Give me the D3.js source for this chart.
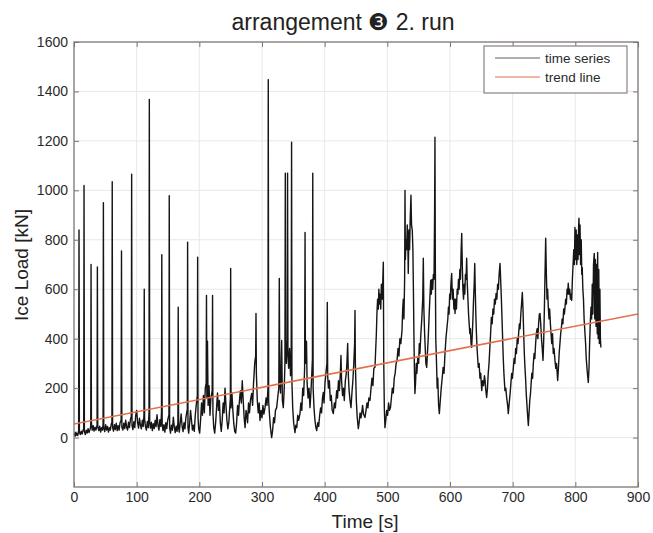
<!DOCTYPE html>
<html><head><meta charset="utf-8">
<script src="https://cdn.jsdelivr.net/npm/d3@7/dist/d3.min.js"></script>
<style>body{margin:0;background:#fff}svg{display:block}</style>
</head><body><svg id="c" width="653" height="533"></svg>
<script>
const titleText = "arrangement \u2778 2. run";
const xLabel = "Time [s]";
const yLabel = "Ice Load [kN]";
const xTicks = [0,100,200,300,400,500,600,700,800,900];
const yTicks = [0,200,400,600,800,1000,1200,1400,1600];
const xDomain = [0,900];
const yDomain = [-200,1600];
const legendLabels = ["time series","trend line"];
const trendTime = [0, 900];
const trendLoad = [55, 500];
// time series samples: [time s, load kN]
const loadSamples = [
[0,8],[1,18],[2,6],[3,22],[4,10],[5,16],[6,8],[7.4,28],[8,840],[8.6,22],[10,12],[11.5,26],[13,14],[14.5,30],[15.5,36],[16,1020],[16.6,24],[18,12],[19.5,30],[21,18],[22.5,36],[24,20],[25.5,32],[26.7,45],[27.2,700],[27.8,60],[29,30],[30.5,48],[32,26],[33.5,42],[35,30],[36.8,50],[37.3,690],[37.9,45],[39.5,28],[41,46],[42.5,22],[44,40],[45.5,30],[46.4,55],[46.9,950],[47.5,40],[49,24],[50.5,52],[52,30],[53.5,45],[55,22],[56.5,40],[58,30],[59.5,55],[60.5,62],[61,1035],[61.6,40],[63,26],[64.5,52],[66,32],[67.5,58],[69,28],[70.5,48],[72,30],[73.5,60],[75.2,70],[75.8,755],[76.4,42],[78,30],[79.5,58],[81,36],[82.5,70],[84,42],[85.5,30],[87,62],[88.5,40],[90,72],[91.4,85],[92,1065],[92.6,48],[94,32],[95.5,64],[97,40],[98.5,90],[100,110],
[101.5,60],[103,38],[104.5,78],[106,50],[107.5,35],[109,70],[110.5,45],[111.6,90],[112.1,600],[112.7,75],[114,45],[115.5,30],[117,65],[118.5,40],[119.7,100],[120.2,1368],[120.8,60],[122,38],[123.5,62],[125,28],[126.5,56],[128,36],[129.5,70],[131,44],[132.5,92],[134,50],[135.5,30],[137,72],[138.5,45],[139.6,100],[140.1,740],[140.7,55],[142,28],[143.5,52],[145,22],[146.5,60],[148,36],[149.5,70],[151.5,92],[152,978],[152.6,40],[154,18],[155.5,50],[157,30],[158.5,82],[160,44],[161.5,20],[163,46],[164.5,25],[165.8,62],[166.3,527],[166.9,40],[168,22],[169.5,60],[171,95],[172.5,45],[174,24],[175.5,60],[177,35],[178.5,80],[180.8,115],[181.3,790],[181.9,40],[183,18],[184.5,58],[186,110],[187.5,70],[189,30],[190.5,50],[192,25],[193.5,90],[195,130],[196.8,170],[197.3,730],[197.9,80],[199,35],[200.5,18],
[202,70],[203.5,140],[205,90],[206.5,170],[208,100],[209.5,200],[210.9,220],[211.4,575],[212,160],[213,390],[214,130],[215.5,210],[217,90],[218.5,160],[220.5,190],[221.1,575],[221.7,100],[223,40],[224.5,18],[226,60],[227.5,120],[229,180],[230.5,110],[232,150],[233.5,60],[235,25],[236.5,70],[238,140],[239.5,100],[241,200],[242.5,130],[244,70],[245.5,35],[247,60],[248.5,120],[249.5,160],[250,684],[250.6,120],[252,180],[253.5,110],[255,55],[256.5,25],[258,18],[259.5,60],[261,130],[262.5,90],[264,150],[265.5,190],[267,140],[268.5,230],[270,150],[271.5,80],[273,40],[274.5,110],[275.5,97],[277,60],[278.5,140],[280,100],[281.5,150],[283.5,178],[285,130],[286.5,220],[288.5,304],[289.9,330],[290.4,502],[291,260],[292.5,150],[294,100],[295.5,140],[296.8,69],[298.5,110],[300,80],
[301.5,130],[303,95],[304.8,121],[306.5,160],[308,130],[309.5,200],[310,1448],[310.6,150],[312,90],[313.5,40],[315.4,0],[317,30],[318.5,80],[320,60],[321.5,110],[323.4,121],[325,160],[326.8,200],[327.6,644],[328.3,250],[329.5,180],[331.4,393],[332.5,150],[334,121],[335.5,200],[336.6,300],[337.2,1069],[337.8,380],[339,300],[340.3,400],[340.8,1069],[341.4,350],[342.5,280],[344,360],[345.5,250],[346.6,330],[347.2,1195],[347.8,220],[349,120],[350.5,60],[352.6,20],[354,50],[355.5,40],[357,90],[358.5,70],[360.6,97],[362,140],[363.5,110],[365,200],[366.5,170],[368,280],[368.7,830],[369.3,300],[371,390],[372,220],[373.5,160],[375,200],[376.6,121],[378,180],[379.5,260],[380.5,320],[381,1069],[381.6,200],[383,120],[384.5,70],[386,40],[387.3,28],[389,60],[390.5,45],[392,90],[393.5,120],[395,100],[396.5,160],[397.8,182],[399,140],[400.5,220],
[402,260],[403.6,300],[404.2,547],[404.8,250],[406,200],[407.5,230],[409,150],[410.5,170],[412,110],[413.8,97],[415.5,140],[417,120],[419.2,190],[420.5,160],[422,230],[423.5,190],[425,260],[426,332],[427,230],[428.5,170],[430,200],[431.3,150],[433,230],[434.5,260],[435.5,300],[436.7,381],[437.8,250],[439,190],[440.5,150],[442,121],[443.5,180],[445,230],[446.5,300],[447.8,380],[448.4,514],[449,300],[450.5,150],[452,80],[453.7,36],[455,60],[456.5,100],[458,80],[459,97],[460.5,130],[462,95],[464.3,81],[466,110],[467.5,140],[469,120],[470.5,160],[472.3,150],[474,200],[475.5,240],[477,210],[478.5,280],[480.3,284],[481.5,360],[482.5,420],[483.5,510],[484.5,560],[485.6,520],[486.5,600],[487.5,540],[488.5,580],[489.5,520],[490.5,620],[491.8,560],[492.8,640],[493.6,709],[494.3,300],[495.2,120],[496.2,40],[497.5,70],[499,110],[500.5,90],
[502,140],[503.5,110],[505,121],[506.5,160],[508,200],[509.5,180],[511,240],[512.5,260],[514,300],[515.5,312],[517,360],[518.5,330],[520,400],[521.5,380],[523.4,433],[524.5,520],[525.5,560],[526.5,480],[527.6,640],[528.2,1000],[528.8,720],[529.8,800],[530.8,760],[531.8,860],[532.8,780],[533.4,664],[534.5,840],[535.5,760],[536.5,880],[537.7,980],[538.6,860],[539.8,838],[540.8,760],[541.6,600],[542.5,400],[543.3,260],[544,178],[545,220],[546.2,300],[547.2,260],[548.5,320],[550,300],[551,380],[552,340],[553.5,420],[555,480],[556.5,560],[557.4,725],[558.3,520],[559.5,420],[560.5,360],[561.5,300],[562.8,284],[564,340],[565.2,400],[566.5,480],[567.8,560],[569.2,636],[570.2,580],[571.3,640],[572.4,600],[573.5,660],[574.5,640],[575.4,900],[576,1215],[576.6,700],[577.3,400],[578.5,300],[579.5,200],[580.5,240],[581.8,130],[583,97],[584.5,150],[586,200],[587.5,240],[589,284],[590.5,260],[592,340],[593.5,400],[595,440],[596.5,480],[597.5,527],[598.5,500],[599.5,580],[600.5,560],
[601.5,620],[602.7,664],[603.8,560],[605,600],[606.2,520],[607.2,560],[608,502],[609.2,560],[610.3,520],[611.5,600],[612.6,580],[613.5,640],[614.6,600],[615.7,680],[616.7,640],[617.8,760],[618.7,826],[619.6,700],[620.6,600],[621.6,560],[622.6,620],[623.6,580],[624.6,660],[625.6,640],[626.6,725],[627.6,620],[628.6,560],[629.6,500],[630.6,460],[631.6,421],[632.6,440],[633.6,380],[634.6,365],[635.6,420],[636.6,480],[637.6,560],[638.6,620],[639.5,704],[640.3,600],[641.2,500],[642.2,420],[643.2,360],[644.2,320],[645.2,284],[646.5,300],[647.8,240],[649,260],[650.6,190],[652,230],[653.5,210],[655,250],[656,231],[657.2,190],[658.5,162],[659.8,200],[661,260],[662.3,300],[663.5,360],[664.8,420],[666,486],[667.3,460],[668.5,520],[669.8,500],[671,560],[672.3,540],[673.5,583],[674.8,560],[676,620],[677.2,600],[678.4,660],[679.8,704],[680.8,640],[682,560],[683,480],[684,400],[685,320],[686,260],[687.7,190],[689,200],[690.5,160],[692,130],[693,97],[694.5,140],[696,180],[697.2,220],[698.4,259],[699.6,240],
[701,280],[702.3,320],[703.5,300],[704.8,360],[706,340],[707.3,400],[708.5,380],[709.5,421],[710.7,460],[711.8,440],[713,500],[714.2,540],[715.4,587],[716.5,520],[717.6,420],[718.6,340],[719.6,284],[720.6,240],[721.6,180],[722.6,140],[723.6,100],[725,49],[726.2,100],[727.3,150],[728.5,180],[729.5,219],[730.6,260],[731.8,240],[733,300],[734.2,340],[735.4,320],[736.6,380],[737.8,421],[739,440],[740.2,400],[741.4,460],[742.6,500],[743.6,502],[744.8,460],[746,400],[747.2,360],[748.4,312],[749.6,400],[750.6,520],[751.6,660],[752.7,806],[753.8,660],[754.8,560],[755.8,600],[756.9,527],[758,480],[759,520],[760.2,460],[761.2,421],[762.4,380],[763.6,420],[764.8,340],[766,360],[767.5,312],[768.8,280],[770,300],[771.8,231],[773,280],[774.2,340],[775.4,380],[776.6,420],[777.8,446],[779,480],[780.2,460],[781.4,520],[782.6,500],[783.5,527],[784.6,560],[785.7,540],[786.8,600],[787.8,580],[788.7,624],[789.8,580],[791,600],[792.2,560],[793.2,580],[794.2,555],[795.3,640],[796.4,700],[797.5,760],[798.5,700],[799.4,850],[800.3,720],[801.3,840],[802.3,700],[803.3,820],[804.3,720],[805.3,860],[805.8,887],[806.6,740],[807.5,860],[808.4,700],[809.4,800],[810.3,660],[811,688],[812,600],[813,560],[814,480],[815.4,421],[816.4,380],[817.4,320],[818.6,280],[819.6,250],[820.7,223],[821.8,280],[822.8,380],[823.8,460],[825,527],[826,480],[827,620],[828,500],[829,700],[830.2,745],[831,480],[832,720],[833,450],[834,700],[835,420],[835.6,749],[836.5,400],[837.4,680],[838.3,380],[839.2,600],[840,400],[840.8,364]
];

const W = 653, H = 533;
const m = {left:74, right:15, top:42, bottom:46};
const svg = d3.select("#c");
svg.append("rect").attr("width",W).attr("height",H).attr("fill","#fff");

const x = d3.scaleLinear().domain(xDomain).range([m.left, W-m.right]);
const y = d3.scaleLinear().domain(yDomain).range([H-m.bottom, m.top]);
const font = "'Liberation Sans', Arial, Helvetica, sans-serif";
const axisCol = "#7d7575";

// grid
const g = svg.append("g");
g.selectAll(".gx").data(xTicks.filter(t=>t>xDomain[0] && t<xDomain[1])).join("line")
  .attr("x1",d=>x(d)).attr("x2",d=>x(d)).attr("y1",y(yDomain[0])).attr("y2",y(yDomain[1]))
  .attr("stroke","#e8e8e8").attr("stroke-width",1);
g.selectAll(".gy").data(yTicks.filter(t=>t>yDomain[0] && t<yDomain[1])).join("line")
  .attr("y1",d=>y(d)).attr("y2",d=>y(d)).attr("x1",x(xDomain[0])).attr("x2",x(xDomain[1]))
  .attr("stroke","#e8e8e8").attr("stroke-width",1);

svg.append("defs").append("clipPath").attr("id","clip").append("rect")
  .attr("x",x(xDomain[0])).attr("y",y(yDomain[1])).attr("width",x(xDomain[1])-x(xDomain[0])).attr("height",y(yDomain[0])-y(yDomain[1]));

const line = d3.line().x(d=>x(d[0])).y(d=>y(d[1]));
svg.append("path").datum(loadSamples).attr("clip-path","url(#clip)")
  .attr("d",line).attr("fill","none").attr("stroke","#151515").attr("stroke-width",1.4).attr("stroke-linejoin","round");

const trend = trendTime.map((t,i)=>[t,trendLoad[i]]);
svg.append("path").datum(trend).attr("clip-path","url(#clip)")
  .attr("d",line).attr("fill","none").attr("stroke","#e2714e").attr("stroke-width",1.6);

// axes
function styleAxis(sel, showLabels){
  sel.select(".domain").remove();
  sel.selectAll(".tick line").attr("stroke",axisCol);
  sel.selectAll(".tick text").attr("fill","#2a2a2a").style("font-family",font).style("font-size","14px");
  if(!showLabels) sel.selectAll(".tick text").remove();
}
const fmt = d3.format("d");
svg.append("g").attr("transform",`translate(0,${y(yDomain[0])})`)
  .call(d3.axisBottom(x).tickValues(xTicks).tickFormat(fmt).tickSize(-5).tickPadding(5)).call(s=>styleAxis(s,true));
svg.append("g").attr("transform",`translate(0,${y(yDomain[1])})`)
  .call(d3.axisTop(x).tickValues(xTicks).tickSize(-5)).call(s=>styleAxis(s,false));
svg.append("g").attr("transform",`translate(${x(xDomain[0])},0)`)
  .call(d3.axisLeft(y).tickValues(yTicks).tickFormat(fmt).tickSize(-5).tickPadding(6)).call(s=>styleAxis(s,true));
svg.append("g").attr("transform",`translate(${x(xDomain[1])},0)`)
  .call(d3.axisRight(y).tickValues(yTicks).tickSize(-5)).call(s=>styleAxis(s,false));

svg.append("rect").attr("x",x(xDomain[0])).attr("y",y(yDomain[1]))
  .attr("width",x(xDomain[1])-x(xDomain[0])).attr("height",y(yDomain[0])-y(yDomain[1]))
  .attr("fill","none").attr("stroke",axisCol).attr("stroke-width",1.3);

// labels
svg.append("text").attr("x",343).attr("y",30).attr("text-anchor","middle")
  .style("font-family",font).style("font-size","23px").attr("fill","#222").text(titleText);
svg.append("text").attr("x",365).attr("y",528).attr("text-anchor","middle")
  .style("font-family",font).style("font-size","19px").attr("fill","#222").text(xLabel);
svg.append("text").attr("transform","translate(28,265) rotate(-90)").attr("text-anchor","middle")
  .style("font-family",font).style("font-size","19px").attr("fill","#222").text(yLabel);

// legend
const lg = svg.append("g");
lg.append("rect").attr("x",484).attr("y",46).attr("width",143).attr("height",47)
  .attr("fill","#fff").attr("stroke","#8a8282").attr("stroke-width",1.2);
const legCols = ["#6a6060","#e2714e"];
legendLabels.forEach((lab,i)=>{
  const yy = 58 + i*19;
  lg.append("line").attr("x1",495).attr("x2",540).attr("y1",yy).attr("y2",yy)
    .attr("stroke",legCols[i]).attr("stroke-width",1.2);
  lg.append("text").attr("x",545).attr("y",yy+4.5)
    .style("font-family",font).style("font-size","13.5px").attr("fill","#2a2a2a").text(lab);
});
</script></body></html>
